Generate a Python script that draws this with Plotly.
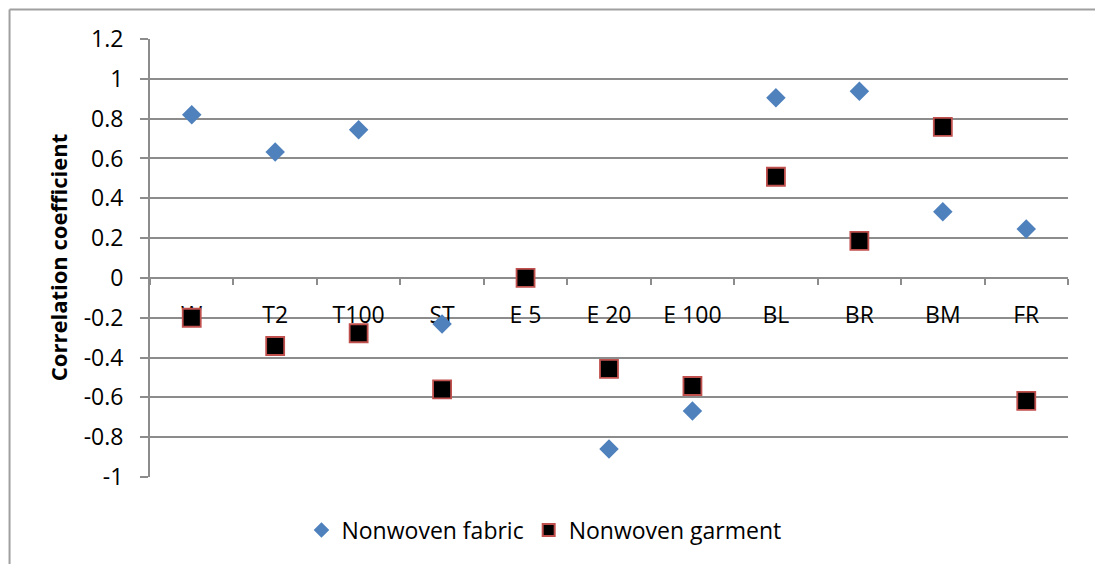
import plotly.graph_objects as go

# Test categories and correlation coefficients
categories = ["W", "T2", "T100", "ST", "E 5", "E 20", "E 100", "BL", "BR", "BM", "FR"]
fabric = [0.82, 0.633, 0.744, -0.231, None, -0.859, -0.668, 0.905, 0.937, 0.332, 0.246]
garment = [-0.20, -0.342, -0.278, -0.560, 0.0, -0.457, -0.543, 0.508, 0.186, 0.759, -0.618]
y_ticks = [-1, -0.8, -0.6, -0.4, -0.2, 0, 0.2, 0.4, 0.6, 0.8, 1, 1.2]
y_tick_text = ["-1", "-0.8", "-0.6", "-0.4", "-0.2", "0", "0.2", "0.4", "0.6", "0.8", "1", "1.2"]

FONT = "Open Sans"
GRID = "#8c8c8c"
x_pos = list(range(len(categories)))
y_min, y_max = -1.0, 1.2

fig = go.Figure()
fig.add_trace(go.Scatter(
    x=x_pos, y=fabric, mode="markers", name="Nonwoven fabric",
    marker=dict(symbol="diamond", size=15, color="#4F81BD",
                line=dict(width=0)),
))
fig.add_trace(go.Scatter(
    x=x_pos, y=garment, mode="markers", name="Nonwoven garment",
    marker=dict(symbol="square", size=18, color="black",
                line=dict(width=1.8, color="#C0504D")),
))

# category axis crosses the value axis at zero
zero_frac = (0 - y_min) / (y_max - y_min)

fig.update_layout(
    width=1095, height=564,
    margin=dict(l=150, r=27, t=39, b=87),
    paper_bgcolor="white", plot_bgcolor="white",
    font=dict(family=FONT, size=23, color="black"),
    showlegend=True,
    legend=dict(orientation="h", x=0.165, xanchor="left", y=-0.121,
                yanchor="middle", font=dict(family=FONT, size=23),
                itemsizing="constant", bgcolor="rgba(0,0,0,0)"),
    xaxis=dict(
        range=[-0.5, len(categories) - 0.5],
        anchor="free", position=zero_frac,
        tickmode="array", tickvals=x_pos, ticktext=categories,
        ticks="", ticklabelstandoff=16,
        showline=True, linecolor=GRID, linewidth=2,
        showgrid=False, zeroline=False, layer="below traces",
        minor=dict(tick0=-0.5, dtick=1, ticks="outside", ticklen=6,
                   tickcolor=GRID, tickwidth=2, showgrid=False),
        tickfont=dict(family=FONT, size=23),
        fixedrange=True,
    ),
    yaxis=dict(
        range=[y_min, y_max],
        tickmode="array", tickvals=y_ticks, ticktext=y_tick_text,
        ticks="outside", ticklen=8, tickcolor=GRID, tickwidth=2,
        ticklabelstandoff=12,
        showline=True, linecolor=GRID, linewidth=2,
        showgrid=True, gridcolor=GRID, gridwidth=2,
        zeroline=False, layer="below traces",
        tickfont=dict(family=FONT, size=23),
        fixedrange=True,
    ),
    annotations=[dict(
        text="<b>Correlation coefficient</b>", textangle=-90,
        xref="paper", yref="paper", x=-0.100, y=0.5,
        xanchor="center", yanchor="middle", showarrow=False,
        font=dict(family=FONT, size=22, color="black"),
    )],
    shapes=[
        # chart frame (top and left edges)
        dict(type="line", xref="paper", yref="paper",
             x0=-0.153, x1=1.03, y0=1.0674, y1=1.0674,
             line=dict(color="#a0a0a0", width=2)),
        dict(type="line", xref="paper", yref="paper",
             x0=-0.153, x1=-0.153, y0=1.0674, y1=-0.2,
             line=dict(color="#a0a0a0", width=2)),
    ],
)

fig.write_html("out.html")
